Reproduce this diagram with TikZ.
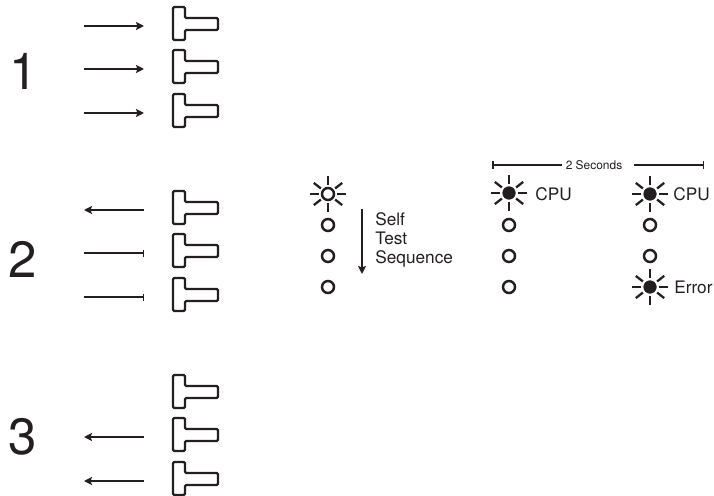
\documentclass[tikz,border=0pt]{standalone}
\usepackage{fontspec}
\setmainfont{TeX Gyre Heros}
\usetikzlibrary{arrows.meta}
\definecolor{inkdark}{HTML}{231F20}

\begin{document}
\begin{tikzpicture}[
    x=0.2mm, y=-0.2mm,
    every node/.style={text=inkdark},
    bignum/.style={font=\fontsize{29}{29}\selectfont},
    label/.style={font=\fontsize{9.8}{11}\selectfont, align=left, anchor=west, inner sep=0pt},
    tiny/.style={font=\fontsize{6.8}{8}\selectfont, inner sep=0pt},
    led/.style={draw=inkdark, circle, line width=1.4pt, minimum size=0.24cm, inner sep=0pt, fill=white},
    ledon/.style={draw=inkdark, circle, line width=0.4pt, minimum size=0.25cm, inner sep=0pt, fill=inkdark},
    ray/.style={draw=inkdark, line width=1.3pt},
    arrin/.style={-{Stealth[length=1.6mm, width=1.6mm, inset=0.3mm]}, draw=inkdark, line width=1.15pt},
    arrbar/.style={-{Bar[width=1.4mm, line width=0.7pt]}, draw=inkdark, line width=1.15pt},
    span/.style={draw=inkdark, line width=1.1pt},
    paddle/.pic={
      \draw[draw=inkdark, line width=1.25pt, rounded corners=0.25mm]
        (0,0) -- (12,0) -- (12,11) -- (45,11) -- (45,23) -- (12,23) -- (12,33) -- (0,33) -- cycle;
    },
]
\useasboundingbox (0,0) rectangle (714,496);

% Step numbers
\node[bignum] (one) at (24,71) {1};
\node[bignum] (two) at (23,259) {2};
\node[bignum] (three) at (23,437) {3};

% Paddles
\foreach \y in {7,50,94,191,234,278,375,418,462} {
  \pic at (173,\y) {paddle};
}

% Arrows beside the paddles
\foreach \n/\y/\kind in {a/26/arrin, b/69/arrin, c/113/arrin, e/253/arrbar, f/297/arrbar} {
  \coordinate (\n l) at (84,\y);
  \coordinate (\n r) at (144,\y);
  \draw[\kind] (\n l) -- (\n r);
}
\foreach \n/\y in {d/210, g/437, h/481} {
  \coordinate (\n l) at (84,\y);
  \coordinate (\n r) at (144,\y);
  \draw[arrin] (\n r) -- (\n l);
}

% Self test column
\node[led] (s1) at (328,194) {};
\node[led] (s2) at (328,225) {};
\node[led] (s3) at (328,256) {};
\node[led] (s4) at (328,287) {};
\coordinate (seqtop) at (362,209);
\coordinate (seqend) at (362,274);
\draw[arrin] (seqtop) -- (seqend);
\node[label] (seq) at (375,240) {Self\\Test\\Sequence};

% CPU column
\node[ledon] (c1) at (509,193) {};
\node[led] (c2) at (509,225) {};
\node[led] (c3) at (509,256) {};
\node[led] (c4) at (509,287) {};
\node[label] (cpua) at (535,194) {CPU};

% CPU and error column
\node[ledon] (e1) at (650,194) {};
\node[led] (e2) at (650,225) {};
\node[led] (e3) at (650,256) {};
\node[ledon] (e4) at (650,287) {};
\node[label] (cpub) at (673,194) {CPU};
\node[label] (err) at (674,287) {Error};

% Rays
\foreach \c in {s1,c1,e1,e4} {
  \foreach \a in {0,38,90,142,180,218,270,322} {
    \draw[ray] (\c) ++(\a:9) -- ++(\a:9);
  }
}

% Two second span
\node[tiny] (secs) at (594,165) {2 Seconds};
\coordinate (spanl) at (492,165);
\coordinate (spanm) at (562,165);
\coordinate (spann) at (634,165);
\coordinate (spanr) at (704,165);
\draw[span, {Bar[width=1.5mm, line width=1pt]}-] (spanl) -- (spanm);
\draw[span, -{Bar[width=1.5mm, line width=0.5pt]}] (spann) -- (spanr);

\end{tikzpicture}
\end{document}
